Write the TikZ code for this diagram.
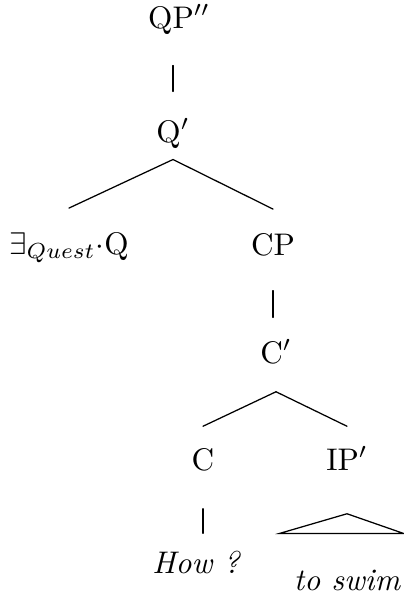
\documentclass[tikz,border=0pt]{standalone}
\usepackage{tikz}
\usetikzlibrary{calc}
\tikzset{
    cat/.style={anchor=base, inner sep=0pt, text height=7pt, text depth=0pt, font=\normalsize},
    leaf/.style={anchor=base, inner sep=0pt, text height=7pt, text depth=0pt, font=\itshape},
    branch/.style={thin, line cap=round},
}

\begin{document}
\begin{tikzpicture}[x=0.32pt, y=-0.32pt]
    \useasboundingbox (0,0) rectangle (404,599);
    \node[cat] (qpp) at (179,28) {QP$''$};
    \node[cat] (qbar) at (173,142) {Q$'$};
    \node[cat] (ex) at (69,254) {$\exists_{Quest}\cdot$Q};
    \node[cat] (cp) at (273,255) {CP};
    \node[cat] (cbar) at (276,363) {C$'$};
    \node[cat] (c) at (203,470) {C};
    \node[cat] (ip) at (347,470) {IP$'$};
    \node[leaf] (how) at (196,573) {How ?};
    \node[leaf] (swim) at (347,590) {to swim};

    \draw[branch] ([yshift=-11.8pt]qbar.north |- qpp.south) -- ([yshift=9pt]qbar.north);
    \draw[branch] ([yshift=-5.4pt]qbar.south) -- ([yshift=7.5pt]ex.north);
    \draw[branch] ([yshift=-5.4pt]qbar.south) -- ([yshift=7.5pt]cp.north);
    \draw[branch] ([yshift=-11.2pt]cp.south) -- ([yshift=7.4pt]cp.south |- cbar.north);
    \draw[branch] ([yshift=-9pt]cbar.south) -- ([yshift=6.8pt]c.north);
    \draw[branch] ([yshift=-9pt]cbar.south) -- ([yshift=6.8pt]ip.north);
    \draw[branch] ([yshift=-12.2pt]c.south) -- ([yshift=5.5pt]c.south |- how.north);
    \draw[branch] ([yshift=-13.8pt]ip.south) -- ([xshift=-21.6pt, yshift=10.9pt]swim.north)
        -- ([xshift=18.1pt, yshift=10.9pt]swim.north) -- cycle;
\end{tikzpicture}
\end{document}
